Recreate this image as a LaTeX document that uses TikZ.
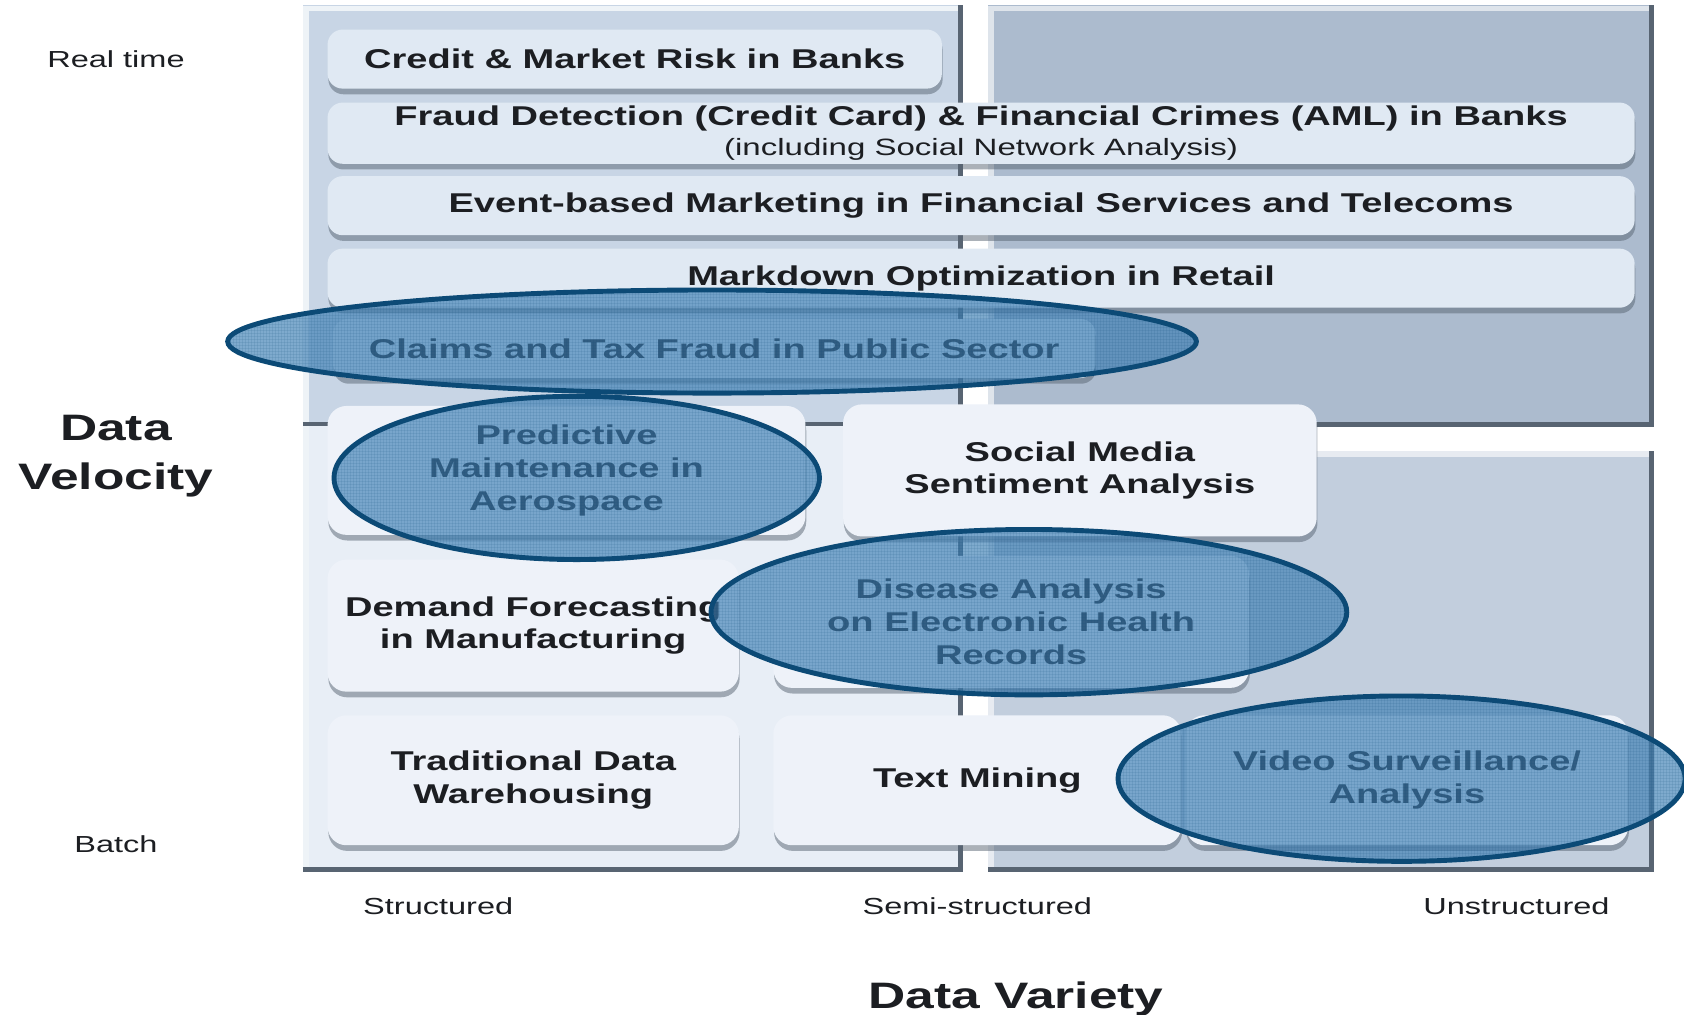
\documentclass[tikz,border=0pt]{standalone}
\usepackage{fontspec}
\setmainfont[FakeStretch=1.4]{Liberation Sans}
\usetikzlibrary{shapes.geometric,shadows,patterns.meta}
\definecolor{inkclr}{RGB}{28,30,34}
\definecolor{tlclr}{RGB}{200,213,229}
\definecolor{blclr}{RGB}{232,238,246}
\definecolor{trclr}{RGB}{172,187,206}
\definecolor{brclr}{RGB}{194,206,221}
\definecolor{edgeclr}{RGB}{88,100,114}
\definecolor{barclr}{RGB}{224,233,243}
\definecolor{boxclr}{RGB}{238,242,249}
\definecolor{ringclr}{RGB}{60,126,180}
\definecolor{ringedge}{RGB}{12,74,118}
\tikzdeclarepattern{
  name=ringgrid, type=uncolored,
  bounding box={(0,0) and (1.8pt,1.8pt)},
  tile size={(1.8pt,1.8pt)},
  code={\draw[line width=0.35pt] (0,0) -- (1.8pt,0) (0,0) -- (0,1.8pt);}
}
\tikzset{
  usecase/.style={rounded corners=8pt, fill=barclr, inner sep=0pt, align=center,
    font=\fontsize{14.4}{17.3}\selectfont\bfseries, text=inkclr,
    drop shadow={shadow xshift=0.4pt, shadow yshift=-3pt, opacity=0.5, fill=edgeclr}},
  usebox/.style={usecase, rounded corners=10pt, fill=boxclr},
  ring/.style={ellipse, draw=ringedge, line width=2.6pt, fill=ringclr,
    fill opacity=0.66, draw opacity=1, inner sep=0pt,
    postaction={pattern=ringgrid, pattern color=ringedge, fill opacity=0.3}},
  axislbl/.style={font=\fontsize{12.3}{14}\selectfont, text=inkclr},
  axistitle/.style={font=\fontsize{19.5}{26}\selectfont\bfseries, text=inkclr, align=center}
}

\begin{document}
\begin{tikzpicture}
  \useasboundingbox (0,0) rectangle (31.36,-18.9);
  \fill[white] (0,0) rectangle (31.36,-18.9);

  \fill[tlclr] (5.64,-0.1) rectangle (17.94,-7.92);
  \fill[blclr] (5.64,-7.92) rectangle (17.94,-16.24);
  \fill[trclr] (18.4,-0.1) rectangle (30.8,-7.96);
  \fill[brclr] (18.4,-8.4) rectangle (30.8,-16.24);
  \draw[white!70!tlclr, line width=3pt] (5.7,-16.2) -- (5.7,-0.16) -- (17.9,-0.16);
  \draw[white!60!trclr, line width=3pt] (18.46,-7.9) -- (18.46,-0.16) -- (30.74,-0.16);
  \draw[white!60!brclr, line width=3pt] (18.46,-16.2) -- (18.46,-8.46) -- (30.74,-8.46);
  \draw[edgeclr, line width=2pt] (5.64,-7.9) -- (17.94,-7.9);
  \draw[edgeclr, line width=2.6pt] (5.64,-16.19) -- (17.89,-16.19) -- (17.89,-0.1);
  \draw[edgeclr, line width=2.6pt] (18.4,-7.91) -- (30.75,-7.91) -- (30.75,-0.1);
  \draw[edgeclr, line width=2.6pt] (18.4,-16.19) -- (30.75,-16.19) -- (30.75,-8.4);

  \node[usecase, minimum width=11.44cm, minimum height=1.1cm] (credit) at (11.82,-1.1)
    {Credit \& Market Risk in Banks};
  \node[usecase, minimum width=24.34cm, minimum height=1.14cm] (fraud) at (18.27,-2.48)
    {Fraud Detection (Credit Card) \& Financial Crimes (AML) in Banks\\[-1.5pt]
     {\fontsize{12.5}{13}\selectfont\mdseries (including Social Network Analysis)}};
  \node[usecase, minimum width=24.34cm, minimum height=1.1cm] (event) at (18.27,-3.83)
    {Event-based Marketing in Financial Services and Telecoms};
  \node[usecase, minimum width=24.34cm, minimum height=1.1cm] (markdown) at (18.27,-5.18)
    {Markdown Optimization in Retail};
  \node[usecase, minimum width=14.2cm, minimum height=1.1cm] (claims) at (13.3,-6.49)
    {Claims and Tax Fraud in Public Sector};

  \node[usebox, minimum width=8.9cm, minimum height=2.4cm] (predictive) at (10.55,-8.76)
    {Predictive\\Maintenance in\\Aerospace};
  \node[usebox, minimum width=8.82cm, minimum height=2.46cm] (social) at (20.11,-8.76)
    {Social Media\\Sentiment Analysis};
  \node[usebox, minimum width=7.66cm, minimum height=2.46cm] (demand) at (9.93,-11.65)
    {Demand Forecasting\\in Manufacturing};
  \node[usebox, minimum width=8.86cm, minimum height=2.46cm] (disease) at (18.83,-11.58)
    {Disease Analysis\\on Electronic Health\\Records};
  \node[usebox, minimum width=7.66cm, minimum height=2.42cm] (warehouse) at (9.93,-14.53)
    {Traditional Data\\Warehousing};
  \node[usebox, minimum width=7.6cm, minimum height=2.42cm] (textmining) at (18.2,-14.53)
    {Text Mining};
  \node[usebox, minimum width=8.24cm, minimum height=2.42cm] (video) at (26.2,-14.53)
    {Video Surveillance/\\Analysis};

  \node[ring, minimum width=18.04cm, minimum height=1.92cm] (claimsring) at (13.26,-6.36) {};
  \node[ring, minimum width=9.04cm, minimum height=3.04cm] (predictivering) at (10.74,-8.9) {};
  \node[ring, minimum width=11.84cm, minimum height=3.08cm] (diseasering) at (19.16,-11.4) {};
  \node[ring, minimum width=10.56cm, minimum height=3.08cm] (videoring) at (26.1,-14.5) {};

  \node[axislbl] (realtime) at (2.16,-1.1) {Real time};
  \node[axistitle] (velocity) at (2.16,-8.49) {Data\\Velocity};
  \node[axislbl] (batch) at (2.16,-15.72) {Batch};
  \node[axislbl] (structured) at (8.16,-16.88) {Structured};
  \node[axislbl] (semistructured) at (18.2,-16.88) {Semi-structured};
  \node[axislbl] (unstructured) at (28.24,-16.88) {Unstructured};
  \node[axistitle] (variety) at (18.92,-18.6) {Data Variety};
\end{tikzpicture}
\end{document}
